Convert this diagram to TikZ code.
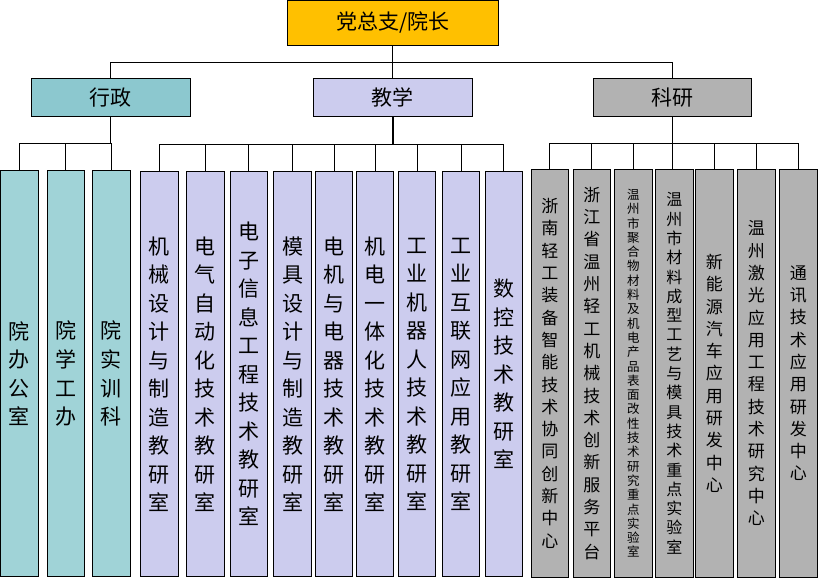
\documentclass[tikz,border=0pt]{standalone}
\usepackage{fontspec}
\setmainfont{Noto Sans CJK SC}
\def\vtloop#1{\ifx#1\relax\else\hbox to 1em{\hss#1\hss}\expandafter\vtloop\fi}
\newcommand\vtxt[1]{\vbox{\vtloop#1\relax}}
\definecolor{topc}{HTML}{FFC000}
\definecolor{admc}{HTML}{8CC8CF}
\definecolor{admk}{HTML}{A0D3D7}
\definecolor{tchc}{HTML}{CCCCEE}
\definecolor{resc}{HTML}{B2B2B2}
\tikzset{
  box/.style={draw=black, line width=1pt, inner sep=0pt, anchor=center},
  head/.style={box, minimum height=38pt, font=\fontsize{21}{24}\selectfont},
  admbox/.style={box, fill=admk, minimum width=38pt, minimum height=406pt, font=\fontsize{21}{28.6}\selectfont},
  tchbox/.style={box, fill=tchc, minimum width=37.5pt, minimum height=405pt, font=\fontsize{21}{28.5}\selectfont},
  resbox/.style={box, fill=resc, minimum width=37.5pt, minimum height=408pt, font=\fontsize{17}{22.3}\selectfont},
  conn/.style={line width=1pt}
}
\begin{document}
\begin{tikzpicture}[x=1pt,y=-1pt]
\useasboundingbox (0,0) rectangle (818,579);
% top
\node[box, fill=topc, minimum width=211pt, minimum height=45pt, font=\fontsize{21}{24}\selectfont] (T) at (392.8,22.8) {党总支/院长};
\node[head, fill=admc, minimum width=159pt] (A) at (110.8,97.3) {行政};
\node[head, fill=tchc, minimum width=159pt] (B) at (392.8,97.3) {教学};
\node[head, fill=resc, minimum width=158pt] (C) at (672.3,97.3) {科研};
% bar levels
\coordinate (lv0) at (0,62.3);
\coordinate (lva) at (0,143.3);
\coordinate (lvb) at (0,144.3);
\coordinate (lvc) at (0,143.3);
% admin children
\node[admbox, minimum width=38.3pt] (a1) at (19.2,373.7) {\vtxt{院办公室}};
\node[admbox, minimum width=37pt] (a2) at (65.8,373.7) {\vtxt{院学工办}};
\node[admbox] (a3) at (111.3,373.7) {\vtxt{院实训科}};
% teaching children
\node[tchbox] (b1) at (159.3,374.2) {\vtxt{机械设计与制造教研室}};
\node[tchbox] (b2) at (205.3,374.2) {\vtxt{电气自动化技术教研室}};
\node[tchbox] (b3) at (248.8,374.2) {\vtxt{电子信息工程技术教研室}};
\node[tchbox] (b4) at (292.5,374.2) {\vtxt{模具设计与制造教研室}};
\node[tchbox] (b5) at (334.0,374.2) {\vtxt{电机与电器技术教研室}};
\node[tchbox] (b6) at (375.0,374.2) {\vtxt{机电一体化技术教研室}};
\node[tchbox] (b7) at (417.2,374.2) {\vtxt{工业机器人技术教研室}};
\node[tchbox] (b8) at (461.0,374.2) {\vtxt{工业互联网应用教研室}};
\node[tchbox] (b9) at (503.8,374.2) {\vtxt{数控技术教研室}};
% research children
\node[resbox] (r1) at (549.8,373.3) {\vtxt{浙南轻工装备智能技术协同创新中心}};
\node[resbox] (r2) at (591.8,373.3) {\vtxt{浙江省温州轻工机械技术创新服务平台}};
\node[resbox, font=\fontsize{12.5}{14.3}\selectfont] (r3) at (633.3,373.3) {\vtxt{温州市聚合物材料及机电产品表面改性技术研究重点实验室}};
\node[resbox, font=\fontsize{16}{19.3}\selectfont] (r4) at (674.3,373.3) {\vtxt{温州市材料成型工艺与模具技术重点实验室}};
\node[resbox] (r5) at (714.3,373.3) {\vtxt{新能源汽车应用研发中心}};
\node[resbox] (r6) at (756.3,373.3) {\vtxt{温州激光应用工程技术研究中心}};
\node[resbox] (r7) at (798.3,373.3) {\vtxt{通讯技术应用研发中心}};
% connectors
\draw[conn] (T.south) -- (B.north);
\draw[conn] (T.south) -- (T.south |- lv0) -| (A.north);
\draw[conn] (T.south) -- (T.south |- lv0) -| (C.north);
\foreach \c in {a1,a2,a3}
  \draw[conn] (A.south) -- (A.south |- lva) -| (\c.north);
\draw[line width=2pt] (B.south) -- (B.south |- lvb);
\foreach \c in {b1,b2,b3,b4,b5,b6,b7,b8,b9}
  \draw[conn] (B.south) -- (B.south |- lvb) -| (\c.north);
\foreach \c in {r1,r2,r3,r5,r6,r7}
  \draw[conn] (C.south) -- (C.south |- lvc) -| (\c.north);
\draw[conn] (C.south) -- (C.south |- r4.north);
\end{tikzpicture}
\end{document}
